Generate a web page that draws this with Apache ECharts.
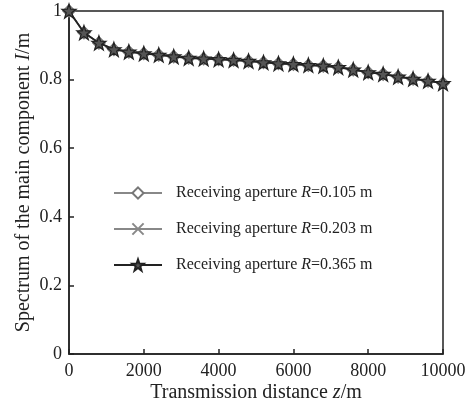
<!DOCTYPE html>
<html><head><meta charset="utf-8">
<script src="https://cdn.jsdelivr.net/npm/echarts@6/dist/echarts.min.js"></script>
<style>html,body{margin:0;padding:0;background:#fff}#c{width:473px;height:403px}</style>
</head><body><div id="c"></div>
<script>
const distances = [0,400,800,1200,1600,2000,2400,2800,3200,3600,4000,4400,4800,5200,5600,6000,6400,6800,7200,7600,8000,8400,8800,9200,9600,10000];
const r0105 = [1.0,0.937,0.907,0.888,0.881,0.876,0.872,0.867,0.863,0.861,0.859,0.857,0.854,0.850,0.847,0.845,0.842,0.840,0.836,0.829,0.821,0.816,0.808,0.802,0.796,0.789];
const r0203 = [1.0,0.937,0.907,0.888,0.881,0.876,0.872,0.867,0.863,0.861,0.859,0.857,0.854,0.850,0.847,0.845,0.842,0.840,0.836,0.829,0.821,0.816,0.808,0.802,0.796,0.789];
const r0365 = [1.0,0.937,0.907,0.888,0.881,0.876,0.872,0.867,0.863,0.861,0.859,0.857,0.854,0.850,0.847,0.845,0.842,0.840,0.836,0.829,0.821,0.816,0.808,0.802,0.796,0.789];
const seriesNames = ['Receiving aperture R=0.105 m','Receiving aperture R=0.203 m','Receiving aperture R=0.365 m'];
const xTicks = [0,2000,4000,6000,8000,10000];
const yTicks = [0,0.2,0.4,0.6,0.8,1];

const font = 'Liberation Serif';
const star = 'path://M0,-10 L2.35,-3.24 L9.51,-3.09 L3.8,1.24 L5.88,8.09 L0,4 L-5.88,8.09 L-3.8,1.24 L-9.51,-3.09 L-2.35,-3.24 Z';
const cross = 'path://M-5,-5 L5,5 M5,-5 L-5,5';
function pairs(ys){return distances.map((x,i)=>[x,ys[i]]);}
function richStyle(sz){return {a:{fontFamily:font,fontSize:sz,color:'#222'},i:{fontFamily:font,fontSize:sz,color:'#222',fontStyle:'italic'}};}
const chart = echarts.init(document.getElementById('c'));
chart.setOption({
  animation:false,
  backgroundColor:'#fff',
  grid:{left:69,right:30,top:11,bottom:49,containLabel:false,outerBoundsMode:'none',show:true,borderColor:'#222',borderWidth:1.5,backgroundColor:'transparent'},
  legend:{
    orient:'vertical',left:108,top:180,itemWidth:48,itemHeight:14,itemGap:20,
    data:seriesNames,
    formatter:function(n){const m=n.match(/^(.*)R(=.*)$/);return '{a|'+m[1]+'}{i|R}{a|'+m[2]+'}';},
    textStyle:{fontFamily:font,fontSize:16,color:'#222',padding:[0,0,0,9],rich:richStyle(16)}
  },
  xAxis:{type:'value',min:0,max:10000,interval:2000,
    name:'{a|Transmission distance }{i|z}{a|/m}',nameLocation:'middle',nameGap:29,nameMoveOverlap:false,
    nameTextStyle:{rich:richStyle(20)},
    axisLine:{show:true,lineStyle:{color:'#222',width:1.5}},
    axisTick:{show:true,inside:true,length:5,lineStyle:{color:'#222',width:1.5}},
    axisLabel:{fontFamily:font,fontSize:18,color:'#222',margin:8,formatter:v=>xTicks.includes(v)?String(v):''},
    splitLine:{show:false}},
  yAxis:{type:'value',min:0,max:1,interval:0.2,
    name:'{a|Spectrum of the main component }{i|I}{a|/m}',nameLocation:'middle',nameGap:35,nameMoveOverlap:false,
    nameTextStyle:{rich:richStyle(20)},
    axisLine:{show:true,lineStyle:{color:'#222',width:1.5}},
    axisTick:{show:true,inside:true,length:5,lineStyle:{color:'#222',width:1.5}},
    axisLabel:{fontFamily:font,fontSize:18,color:'#222',margin:7,formatter:v=>{const t=yTicks.find(k=>Math.abs(k-v)<1e-9);return t===undefined?'':String(t);}},
    splitLine:{show:false}},
  series:[
    {name:seriesNames[0],type:'line',data:pairs(r0105),symbol:'diamond',symbolSize:12,
      lineStyle:{color:'#888',width:1.5},itemStyle:{color:'#fff',borderColor:'#777',borderWidth:1.5},z:2},
    {name:seriesNames[1],type:'line',data:pairs(r0203),symbol:cross,symbolSize:6,
      lineStyle:{color:'#888',width:1.5},itemStyle:{color:'#888',borderColor:'#888',borderWidth:1.2},z:3},
    {name:seriesNames[2],type:'line',data:pairs(r0365),symbol:star,symbolSize:14,
      lineStyle:{color:'#222',width:1.8},itemStyle:{color:'#555',borderColor:'#222',borderWidth:1.3},z:4}
  ]
});
</script></body></html>
